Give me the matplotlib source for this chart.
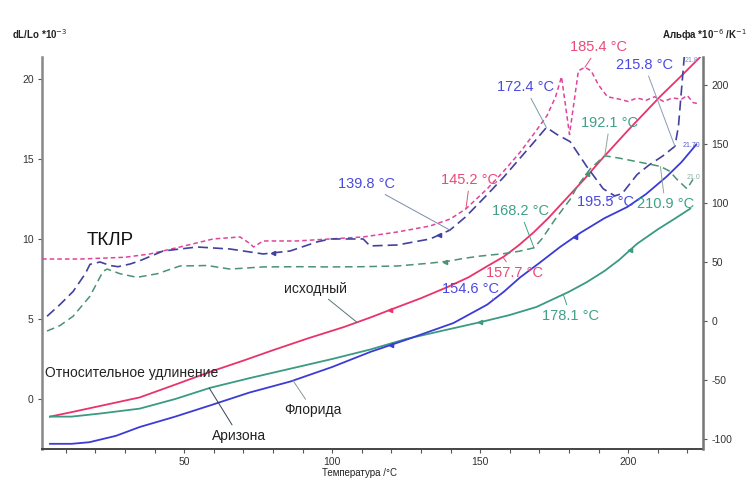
import numpy as np
import matplotlib.pyplot as plt

plt.rcParams['font.family'] = ['Liberation Sans', 'DejaVu Sans']
plt.rcParams['axes.unicode_minus'] = False

# Relative elongation dL/Lo *10^-3 (solid lines, left axis)
t_orig = [4.7, 12.5, 25, 35, 47, 58.8, 70, 80, 92, 104, 113, 120, 130, 139, 146,
          152.4, 158, 163, 168, 173, 178, 185, 191.6, 200, 210.8, 218, 224.5]
dl_orig = [-1.1, -0.8, -0.3, 0.1, 0.9, 1.7, 2.4, 3.05, 3.8, 4.5, 5.1, 5.6, 6.3, 7.0, 7.6,
           8.3, 8.9, 9.6, 10.4, 11.3, 12.3, 13.7, 15.1, 16.8, 18.9, 20.2, 21.4]

t_green = [4.7, 12, 22, 35, 47, 58.8, 72, 86, 100, 113, 125, 138, 150, 160, 169,
           180, 186, 192, 197, 203, 210, 216, 221]
dl_green = [-1.1, -1.1, -0.9, -0.6, 0.0, 0.7, 1.3, 1.9, 2.5, 3.1, 3.75, 4.3, 4.8, 5.25, 5.75,
            6.7, 7.3, 8.0, 8.7, 9.7, 10.6, 11.3, 11.9]

t_blue = [4.7, 12, 18, 27, 35, 47, 58.8, 72, 86, 100, 113, 125, 141, 152.4, 158,
          163.5, 170, 177, 184, 192, 199.7, 206, 213, 218, 223]
dl_blue = [-2.8, -2.8, -2.7, -2.3, -1.75, -1.1, -0.4, 0.4, 1.1, 2.0, 2.95, 3.7, 4.75, 5.9, 6.7,
           7.6, 8.5, 9.5, 10.4, 11.3, 12.0, 12.8, 13.9, 14.8, 15.9]

# Expansion coefficient Alpha *10^-6 /K (dashed lines, right axis)
t_a_orig = [2, 15, 30, 38.5, 48.6, 59.8, 68.9, 72, 73.5, 76.7, 88, 99.3, 110.5, 122, 133.1,
            139.9, 145.2, 152.4, 158, 163.5, 168, 172.6, 175.5, 177.5, 180.2, 183.2, 185.4,
            187.5, 190, 193, 197, 200, 203, 206, 209, 212, 215, 218, 220, 222, 224]
a_orig = [52.5, 52.5, 54, 56.8, 62.7, 69.5, 71.2, 66, 62.7, 67.8, 67.8, 69.5, 71.2, 75.4, 80.5,
          86.4, 95, 112, 127, 143, 158, 174, 190, 207, 158, 212, 215,
          212, 200, 190, 188, 186, 189, 187, 190, 186, 189, 188, 191, 185, 184]

t_a_blue = [3.7, 8.1, 12.5, 16.6, 18.2, 21.6, 25, 27.7, 31.8, 35, 42.9, 54.4, 65.5, 76.7,
            85.8, 94.9, 99.3, 110.5, 112.8, 122, 133.1, 139.8, 145, 152, 158, 163.5, 168,
            172.4, 176, 180.4, 186, 191.6, 195.5, 198, 203, 207, 211.8, 215.8, 217, 218, 219]
a_blue = [4, 14, 25, 40, 48, 50, 47, 46, 48.3, 51, 59.3, 62.7, 61, 56.8,
          59.3, 67, 69.5, 69.5, 63.6, 64.4, 69.5, 77, 88, 106, 122, 138, 151,
          164, 158, 152, 131, 112, 106, 108, 124, 132, 140, 148, 165, 195, 225]

t_a_green = [3.7, 8, 12.5, 18.2, 22.6, 24, 28.4, 34.1, 40.9, 48.6, 57.8, 65.5, 76.7, 89,
             99.3, 110, 122, 133.1, 139.9, 144.3, 150, 157.8, 163, 168.2, 171, 175.3, 180.4,
             182.8, 187.2, 192.1, 197, 203, 207, 210.9, 214, 216.5, 219.9, 221.9]
a_green = [-8.5, -4, 4, 21, 42, 44, 40, 37, 40, 46.6, 47, 44, 45.8, 46,
           45.8, 46, 46.6, 49, 50.9, 53, 55, 57, 59, 62, 70, 86, 103,
           114, 129, 140, 138, 135, 133, 131, 127, 120, 112, 120]

# temperatures where small direction arrows sit on the curves
arrows_orig = [119.6]
arrows_green = [150, 200.7]
arrows_blue = [120, 182]
arrows_a_blue = [80, 136]
arrows_a_green = [138, 186]

RED = '#e8336b'
RED_D = '#e0449a'
BLUE = '#3b3bd6'
BLUE_D = '#42429e'
GREEN = '#3a9a82'
GREEN_D = '#4a9274'
RED_T = '#ea4a78'
BLUE_T = '#4a4ae0'
GREEN_T = '#3fa088'

fig = plt.figure(figsize=(7.49, 4.79), dpi=100)
ax = fig.add_axes([0.0561, 0.0626, 0.8825, 0.8184])
ax2 = ax.twinx()

ax.plot(t_orig, dl_orig, color=RED, lw=1.3)
ax.plot(t_green, dl_green, color=GREEN, lw=1.3)
ax.plot(t_blue, dl_blue, color=BLUE, lw=1.3)

ax2.plot(t_a_orig, a_orig, color=RED_D, lw=1.1, dashes=(3, 2))
ax2.plot(t_a_blue, a_blue, color=BLUE_D, lw=1.2, dashes=(6, 3))
ax2.plot(t_a_green, a_green, color=GREEN_D, lw=1.1, dashes=(5, 3))

# direction arrows
for axis, pts, tt, vv, c in [(ax, arrows_orig, t_orig, dl_orig, RED),
                             (ax, arrows_green, t_green, dl_green, GREEN),
                             (ax, arrows_blue, t_blue, dl_blue, BLUE),
                             (ax2, arrows_a_blue, t_a_blue, a_blue, BLUE_D),
                             (ax2, arrows_a_green, t_a_green, a_green, GREEN_D)]:
    axis.plot(pts, np.interp(pts, tt, vv), ls='none', marker='<', ms=3, color=c)

ax.set_xlim(2, 225.3)
ax.set_ylim(-3.125, 21.375)
ax2.set_ylim(-108.5, 223.7)

ax.set_xticks([50, 100, 150, 200])
ax.set_xticks(np.arange(10, 225, 10), minor=True)
ax.set_yticks([0, 5, 10, 15, 20])
ax2.set_yticks([-100, -50, 0, 50, 100, 150, 200])
for a in (ax, ax2):
    a.tick_params(which='both', direction='out', length=3, width=0.8,
                  color='#555555', labelsize=7.5, labelcolor='#333333', pad=3)
    a.spines['top'].set_visible(False)
ax.spines['left'].set_color('#888888')
ax.spines['left'].set_linewidth(1.8)
ax2.spines['right'].set_color('#777777')
ax2.spines['right'].set_linewidth(1.8)
ax.spines['bottom'].set_color('#444444')
ax.spines['bottom'].set_linewidth(1.4)
ax2.spines['left'].set_visible(False)
ax2.spines['bottom'].set_visible(False)

fig.text(0.016, 0.918, 'dL/Lo *10$^{-3}$', fontsize=7, color='#222222', weight='bold')
fig.text(0.997, 0.918, 'Альфа *10$^{-6}$ /K$^{-1}$', fontsize=7, color='#222222',
         ha='right', weight='bold')
fig.text(0.48, 0.006, 'Температура /°C', fontsize=7, color='#222222', ha='center')


def mark(axis, text, xy, xytext, color, fs=10.5, lc=None):
    axis.annotate(text, xy=xy, xytext=xytext, color=color, fontsize=fs,
                  ha='center', va='center', annotation_clip=False,
                  arrowprops=dict(arrowstyle='-', color=lc or color, lw=0.7,
                                  shrinkA=1, shrinkB=0))


# temperature marks on the alpha curves
mark(ax2, '139.8 °C', (139.8, np.interp(139.8, t_a_blue, a_blue)), (111.5, 116), BLUE_T,
     lc='#7a8aa8')
mark(ax2, '145.2 °C', (145.2, np.interp(145.2, t_a_orig, a_orig)), (146.5, 119.5), RED_T)
mark(ax2, '172.4 °C', (172.4, np.interp(172.4, t_a_blue, a_blue)), (165.2, 198), BLUE_T,
     lc='#7a9aa8')
mark(ax2, '185.4 °C', (185.4, np.interp(185.4, t_a_orig, a_orig)), (189.9, 232), RED_T)
mark(ax2, '215.8 °C', (215.8, np.interp(215.8, t_a_blue, a_blue)), (205.5, 217), BLUE_T,
     lc='#8a9ab8')
mark(ax2, '192.1 °C', (192.1, np.interp(192.1, t_a_green, a_green)), (193.8, 168), GREEN_T,
     lc='#8aa898')
mark(ax2, '168.2 °C', (168.2, np.interp(168.2, t_a_green, a_green)), (163.5, 93), GREEN_T)
mark(ax2, '195.5 °C', (195.5, np.interp(195.5, t_a_blue, a_blue)), (192.5, 101), BLUE_T)
mark(ax2, '210.9 °C', (210.9, np.interp(210.9, t_a_green, a_green)), (212.5, 99), GREEN_T,
     lc='#8aa898')

# temperature marks on the elongation curves
mark(ax, '157.7 °C', (157.7, np.interp(157.7, t_orig, dl_orig)), (161.5, 7.9), RED_T)
mark(ax, '154.6 °C', (154.6, np.interp(154.6, t_blue, dl_blue)), (146.6, 6.9), BLUE_T,
     lc='#6a7a9a')
mark(ax, '178.1 °C', (178.1, np.interp(178.1, t_green, dl_green)), (180.5, 5.2), GREEN_T)

# curve names
mark(ax, 'исходный', (108.4, np.interp(108.4, t_orig, dl_orig)), (94.3, 6.9), '#222222',
     fs=10, lc='#557777')
mark(ax, 'Флорида', (86.8, np.interp(86.8, t_blue, dl_blue)), (93.5, -0.7), '#222222',
     fs=10, lc='#889988')
mark(ax, 'Аризона', (58.5, np.interp(58.5, t_green, dl_green)), (68.5, -2.3), '#222222',
     fs=10, lc='#334455')
ax.text(3, 1.6, 'Относительное удлинение', fontsize=10, color='#222222',
        ha='left', va='center')
ax2.text(17.0, 68, 'ТКЛР', fontsize=13.5, color='#111111', ha='left', va='center')

# small end-point values at the right edge
ax2.text(221.5, 221, '21.8', fontsize=5, color='#8a8ad8', ha='center', va='center')
ax2.text(221.5, 149, '21.70', fontsize=5, color='#5a5ad8', ha='center', va='center')
ax2.text(222, 122, '21.0', fontsize=5, color='#8ab0a0', ha='center', va='center')

fig.savefig('out.png', dpi=100, facecolor='white')
